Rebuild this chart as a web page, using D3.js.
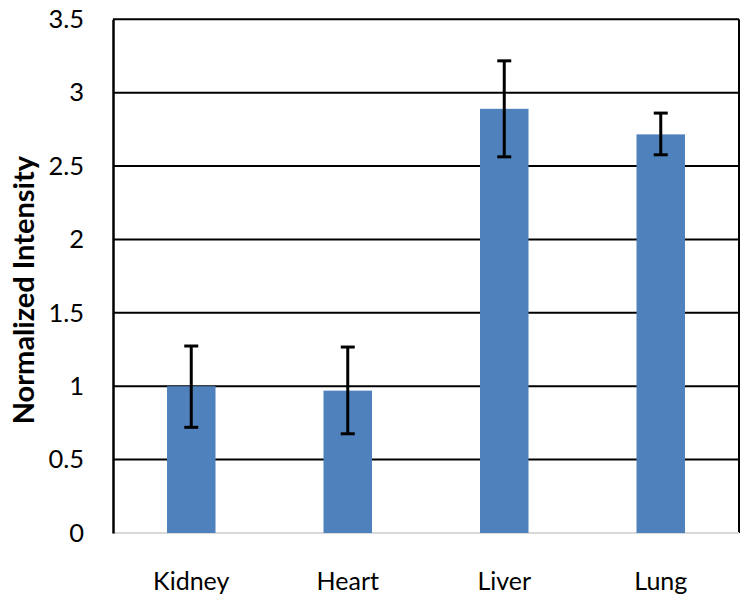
<!DOCTYPE html>
<html><head><meta charset="utf-8">
<script src="https://cdn.jsdelivr.net/npm/d3@7"></script>
<style>body{margin:0;background:#fff}svg{display:block}</style>
</head><body>
<script>
const categories = ["Kidney", "Heart", "Liver", "Lung"];
const values = [1.0, 0.97, 2.89, 2.716];
const errUpper = [1.274, 1.267, 3.217, 2.861];
const errLower = [0.72, 0.676, 2.563, 2.577];
const yTicks = [0, 0.5, 1, 1.5, 2, 2.5, 3, 3.5];
const yTickLabels = ["0", "0.5", "1", "1.5", "2", "2.5", "3", "3.5"];
const yTitle = "Normalized Intensity";

const W = 749, H = 604;
const m = {left: 113, right: 10, top: 19.3, bottom: 71};
const svg = d3.select("body").append("svg").attr("width", W).attr("height", H);
const font = "Lato, 'Open Sans', sans-serif";

const x = d3.scaleBand().domain(categories).range([m.left, W - m.right]).paddingInner(0.69).paddingOuter(0.345);
const y = d3.scaleLinear().domain([0, 3.5]).range([H - m.bottom, m.top]);

// gridlines
svg.append("g").selectAll("line").data(yTicks.filter(d => d > 0)).join("line")
  .attr("x1", m.left).attr("x2", W - m.right)
  .attr("y1", d => y(d)).attr("y2", d => y(d))
  .attr("stroke", "#000").attr("stroke-width", 2);
// right border
svg.append("line").attr("x1", W - m.right).attr("x2", W - m.right)
  .attr("y1", y(3.5)).attr("y2", y(0)).attr("stroke", "#000").attr("stroke-width", 2);
// x axis line (light gray)
svg.append("line").attr("x1", m.left).attr("x2", W - m.right)
  .attr("y1", y(0)).attr("y2", y(0)).attr("stroke", "#d9d9d9").attr("stroke-width", 2);

// bars
svg.append("g").selectAll("rect").data(categories).join("rect")
  .attr("x", d => x(d)).attr("width", x.bandwidth())
  .attr("y", (d, i) => y(values[i])).attr("height", (d, i) => y(0) - y(values[i]))
  .attr("fill", "#4f81bd");

// y axis
const yAxis = d3.axisLeft(y).tickValues(yTicks).tickFormat((d, i) => yTickLabels[i]).tickSize(0).tickPadding(29);
const ga = svg.append("g").attr("transform", `translate(${m.left},0)`).call(yAxis);
ga.select(".domain").attr("stroke", "#000").attr("stroke-width", 2.5);
ga.selectAll("text").attr("font-family", font).attr("font-size", 25.5).attr("fill", "#000");

// error bars
const eb = svg.append("g").attr("stroke", "#000").attr("stroke-width", 3);
categories.forEach((c, i) => {
  const cx = x(c) + x.bandwidth() / 2;
  eb.append("line").attr("x1", cx).attr("x2", cx).attr("y1", y(errUpper[i])).attr("y2", y(errLower[i]));
  eb.append("line").attr("x1", cx - 7).attr("x2", cx + 7).attr("y1", y(errUpper[i])).attr("y2", y(errUpper[i]));
  eb.append("line").attr("x1", cx - 7).attr("x2", cx + 7).attr("y1", y(errLower[i])).attr("y2", y(errLower[i]));
});

// x labels
const xAxis = d3.axisBottom(x).tickSize(0).tickPadding(39);
const gx = svg.append("g").attr("transform", `translate(0,${y(0)})`).call(xAxis);
gx.select(".domain").remove();
gx.selectAll("text").attr("font-family", font).attr("font-size", 25).attr("fill", "#000");

// y title
svg.append("text").attr("transform", `translate(34,${(y(0) + y(3.5)) / 2 + 14}) rotate(-90)`)
  .attr("text-anchor", "middle").attr("font-family", font).attr("font-weight", "bold")
  .attr("font-size", 29).text(yTitle);
</script>
</body></html>
